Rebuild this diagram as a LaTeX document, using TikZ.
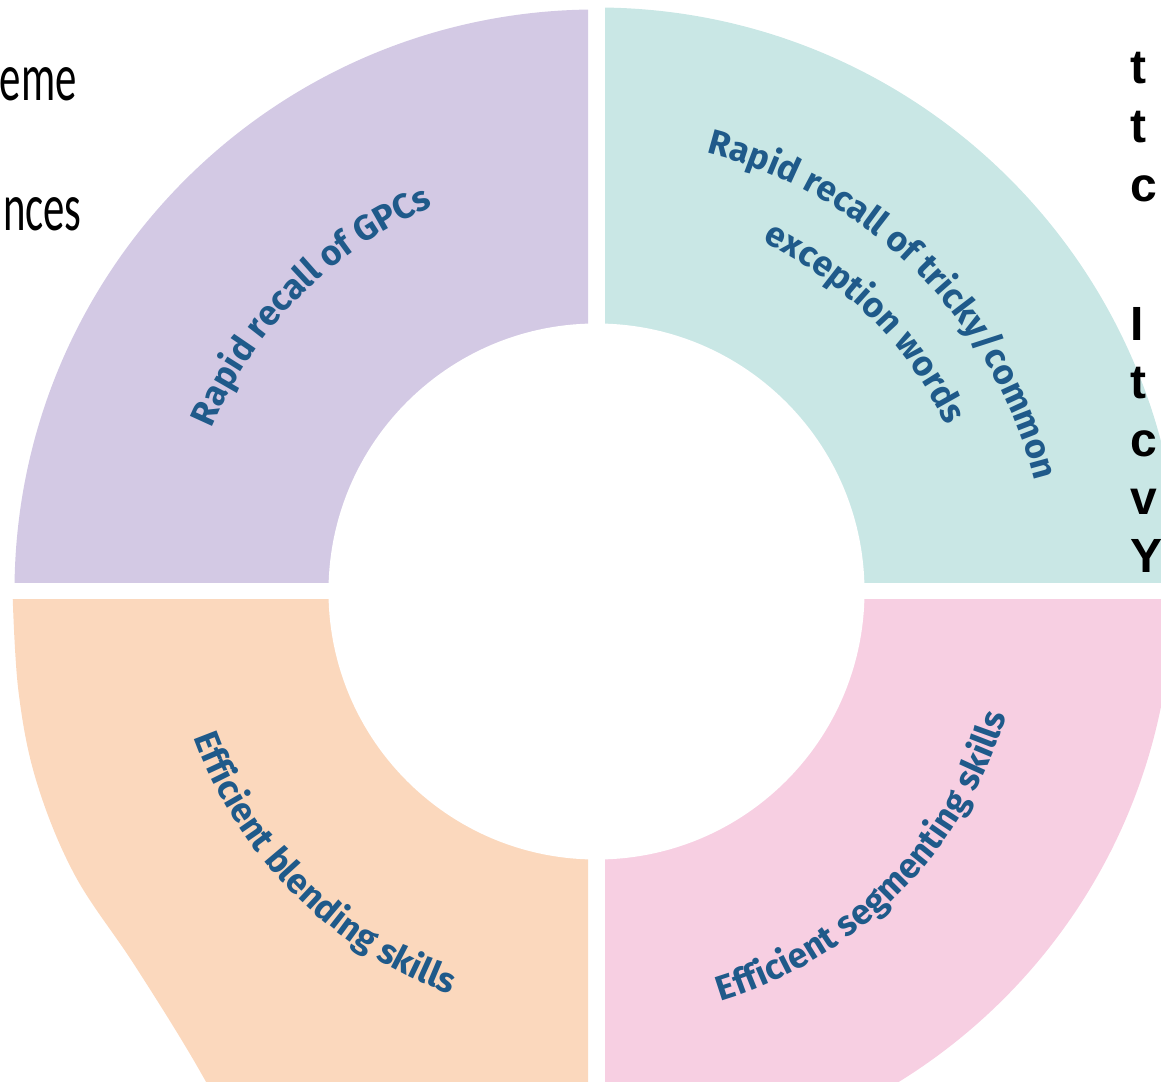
\documentclass[tikz,border=0pt]{standalone}
\usepackage{fontspec}
\setmainfont{Fira Sans}
\newfontfamily\handfont{Fira Sans}
\newfontfamily\leftfont{Carlito}
\newfontfamily\rightfont{Liberation Sans}
\usetikzlibrary{decorations.text}
\definecolor{purp}{HTML}{D3C9E4}
\definecolor{tealq}{HTML}{C9E7E5}
\definecolor{peach}{HTML}{FBD8BD}
\definecolor{pinkq}{HTML}{F7CFE2}
\definecolor{ink}{HTML}{1F5A8A}
\newcommand\labfont{\handfont\bfseries\fontsize{17.5}{17.5}\selectfont}
\begin{document}
\begin{tikzpicture}[x=0.5pt,y=0.5pt,
  lbl/.style={decorate, decoration={text along path, text align=center, text color=ink, text={|\labfont|#1}}},
  lefttxt/.style={font=\leftfont\fontsize{34}{34}\selectfont, inner sep=0pt, anchor=base east, xscale=0.63, transform shape},
  righttxt/.style={font=\rightfont\bfseries\fontsize{24}{24}\selectfont, inner sep=0pt, anchor=base west}]
\useasboundingbox (-596.5,-489.5) rectangle (564.5,591.5);
\clip (-596.5,-489.5) rectangle (564.5,591.5);
% purple quadrant
\begin{scope}
  \clip (-8.5,8.5) rectangle (-700,700);
  \fill[purp] (0,0) circle (582);
\end{scope}
% teal quadrant
\begin{scope}
  \clip (8.5,8.5) rectangle (700,700);
  \fill[tealq] (0,0) circle (584);
\end{scope}
% peach quadrant
\begin{scope}
  \clip (-8.5,-8.5) rectangle (-700,-700);
  \fill[peach] (0,0) -- (-600,0) -- plot[smooth, tension=0.6] coordinates {(-584,0) (-578,-100) (-560,-190) (-522,-283) (-463,-372) (-405,-465) (-352,-560)} -- (-300,-700) -- (0,-700) -- cycle;
\end{scope}
% pink quadrant
\begin{scope}
  \clip (8.5,-8.5) rectangle (700,-700);
  \fill[pinkq] (0,0) circle (576);
\end{scope}
\fill[white] (0,0) circle (268);
% curved labels
\path[lbl={Rapid recall of GPCs}] (180:418) arc[start angle=180, end angle=90, radius=418];
\path[lbl={Rapid recall of tricky/common}] (90:452) arc[start angle=90, end angle=0, radius=452];
\path[lbl={exception words}] (90:387) arc[start angle=90, end angle=0, radius=387];
\path[lbl={Efficient blending skills}] (180:428) arc[start angle=180, end angle=270, radius=428];
\path[lbl={Efficient segmenting skills}] (270:428) arc[start angle=270, end angle=360, radius=428];
% cut-off text on the left
\node[lefttxt] (l1) at (-519.5,490.5) {eme};
\node[lefttxt] (l2) at (-514.5,360.5) {nces};
% cut-off text on the right
\node[righttxt] (r1) at (533.5,507.5) {t};
\node[righttxt] (r2) at (533.5,448.5) {t};
\node[righttxt] (r3) at (533.5,389.5) {c};
\node[righttxt] (r4) at (533.5,250.5) {I};
\node[righttxt] (r5) at (533.5,192.5) {t};
\node[righttxt] (r6) at (533.5,134.5) {c};
\node[righttxt] (r7) at (533.5,76.5) {v};
\node[righttxt] (r8) at (533.5,18.5) {Y};
\end{tikzpicture}
\end{document}
